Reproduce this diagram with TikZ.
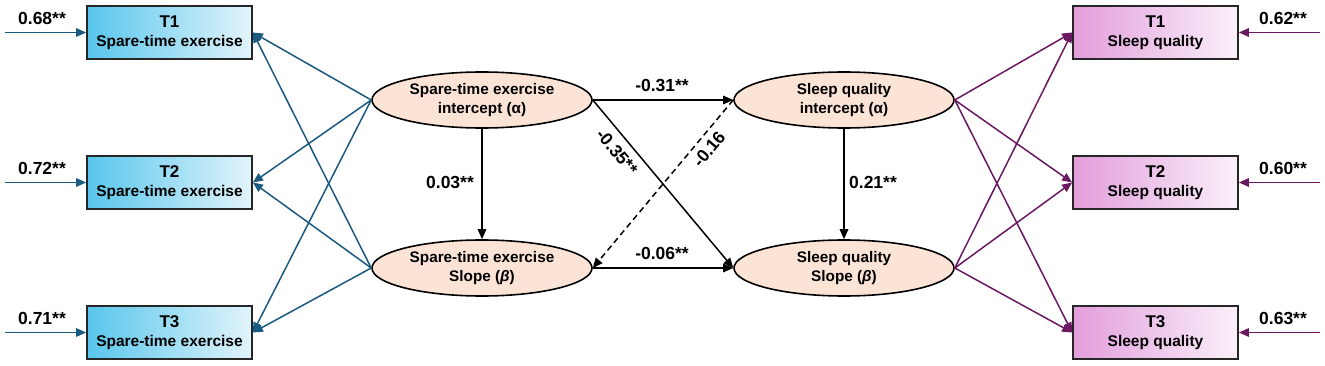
\documentclass[tikz,border=0pt]{standalone}
\usepackage{fontspec}
\setmainfont{Liberation Sans}
\usetikzlibrary{arrows.meta,shapes.geometric}
\definecolor{lblue}{RGB}{27,90,128}
\definecolor{lpurp}{RGB}{106,24,98}
\definecolor{peach}{RGB}{251,228,214}
\definecolor{bleft}{RGB}{88,198,236}
\definecolor{bright}{RGB}{226,244,251}
\definecolor{pleft}{RGB}{226,158,220}
\definecolor{pright}{RGB}{250,240,249}
\newcommand{\tbig}[1]{{\fontsize{17}{19}\selectfont #1}}
\begin{document}
\begin{tikzpicture}[x=1pt,y=-1pt,
  font=\bfseries\fontsize{15.5}{19}\selectfont,
  >={Triangle[length=10pt,width=8.5pt]},
  obsbox/.style={draw=black!85, line width=1.8pt, minimum width=165pt, minimum height=53pt, align=center, inner sep=0pt},
  obsblue/.style={obsbox, left color=bleft, right color=bright},
  obspurp/.style={obsbox, left color=pleft, right color=pright},
  latent/.style={ellipse, draw=black, line width=1.6pt, fill=peach, minimum width=220pt, minimum height=56pt, align=center, inner sep=0pt, font=\bfseries\fontsize{15.3}{18.5}\selectfont},
  bline/.style={draw=lblue, line width=1.5pt, ->},
  pline/.style={draw=lpurp, line width=1.5pt, ->},
  kline/.style={draw=black, line width=1.5pt, ->},
  lab/.style={inner sep=0pt, font=\bfseries\fontsize{17.5}{20}\selectfont}
]
\useasboundingbox (0,0) rectangle (1325,366);

% observed boxes
\node[obsblue] (b1) at (169.5,32.5) {\tbig{T1}\\Spare-time exercise};
\node[obsblue] (b2) at (169.5,182.5) {\tbig{T2}\\Spare-time exercise};
\node[obsblue] (b3) at (169.5,332.5) {\tbig{T3}\\Spare-time exercise};
\node[obspurp] (p1) at (1155.5,32.5) {\tbig{T1}\\Sleep quality};
\node[obspurp] (p2) at (1155.5,182.5) {\tbig{T2}\\Sleep quality};
\node[obspurp] (p3) at (1155.5,332.5) {\tbig{T3}\\Sleep quality};

% latent ellipses
\node[latent] (ei) at (482,100) {Spare-time exercise\\intercept (α)};
\node[latent] (es) at (482,268) {Spare-time exercise\\Slope (\textit{β})};
\node[latent] (si) at (844,100) {Sleep quality\\intercept (α)};
\node[latent] (ss) at (844,268) {Sleep quality\\Slope (\textit{β})};

% error inputs
\coordinate (l1) at (5,32.5);
\coordinate (l2) at (5,182.5);
\coordinate (l3) at (5,332.5);
\coordinate (r1) at (1320,32.5);
\coordinate (r2) at (1320,182.5);
\coordinate (r3) at (1320,332.5);
\draw[bline] (l1) -- (b1.west);
\draw[bline] (l2) -- (b2.west);
\draw[bline] (l3) -- (b3.west);
\draw[pline] (r1) -- (p1.east);
\draw[pline] (r2) -- (p2.east);
\draw[pline] (r3) -- (p3.east);
\node[lab] (n1) at (42,18) {0.68**};
\node[lab] (n2) at (42,168) {0.72**};
\node[lab] (n3) at (42,318) {0.71**};
\node[lab] (m1) at (1283,18) {0.62**};
\node[lab] (m2) at (1283,168) {0.60**};
\node[lab] (m3) at (1283,318) {0.63**};

% loadings
\foreach \b in {b1,b2,b3}{
  \draw[bline] (ei.west) -- (\b.east);
  \draw[bline] (es.west) -- (\b.east);
}
\foreach \p in {p1,p2,p3}{
  \draw[pline] (si.east) -- (\p.west);
  \draw[pline] (ss.east) -- (\p.west);
}

% structural paths
\draw[kline] (ei.south) -- (es.north);
\draw[kline] (si.south) -- (ss.north);
\draw[kline] (ei.east) -- (si.west);
\draw[kline] (es.east) -- (ss.west);
\draw[kline] (ei.east) -- (ss.west);
\draw[kline, dashed, dash pattern=on 6pt off 4pt] (si.west) -- (es.east);

\node[lab] (c1) at (450,182) {0.03**};
\node[lab] (c2) at (873,182) {0.21**};
\node[lab] (c3) at (662,85) {-0.31**};
\node[lab] (c4) at (662,253) {-0.06**};
\node[lab, rotate=-50] (c5) at (617,152) {-0.35**};
\node[lab, rotate=50] (c6) at (709,149) {-0.16};
\end{tikzpicture}
\end{document}
